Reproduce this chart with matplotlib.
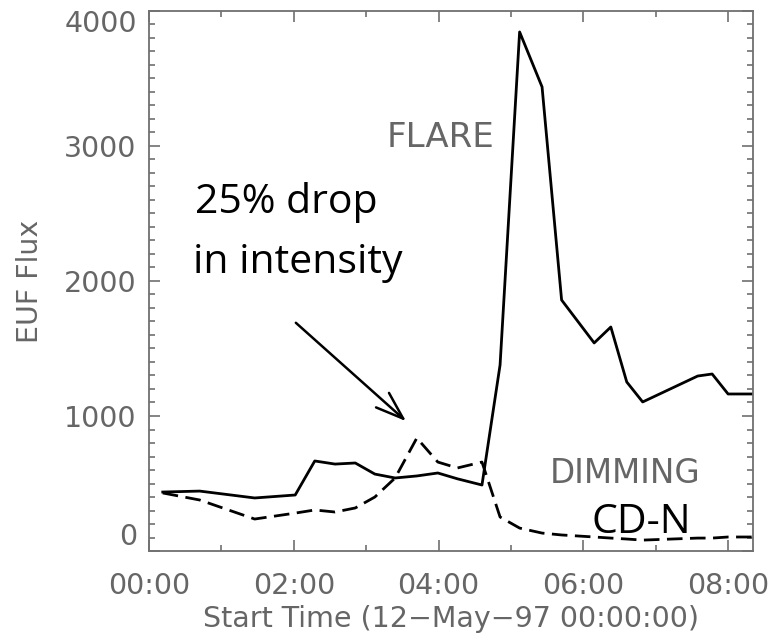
import matplotlib
matplotlib.use("Agg")
import matplotlib.pyplot as plt
import matplotlib.transforms as mtransforms
from matplotlib.ticker import MultipleLocator, FixedLocator, FuncFormatter

# Time in hours after 12-May-97 00:00:00
hours = [0.19, 0.70, 1.46, 2.02, 2.29, 2.57, 2.85, 3.12, 3.40, 3.70, 3.99,
         4.26, 4.60, 4.85, 5.12, 5.43, 5.70, 6.15, 6.38, 6.60, 6.82,
         7.58, 7.78, 8.00, 8.33]

# Flare region flux (solid)
flare_flux = [437, 444, 393, 415, 667, 644, 652, 570, 541, 556, 578,
              535, 489, 1378, 3844, 3437, 1859, 1541, 1659, 1252, 1104,
              1296, 1311, 1163, 1163]

# Dimming region CD-N flux (dashed)
dimming_flux = [430, 378, 237, 281, 304, 289, 319, 400, 541, 837, 659,
                615, 659, 252, 170, 133, 119, 104, 96, 89, 81,
                96, 96, 104, 104]

x_ticks = [0, 2, 4, 6, 8]
y_ticks = [0, 1000, 2000, 3000, 4000]

axis_gray = "#707070"
text_gray = "#666666"
label_font = "DejaVu Sans"
label_size = 20.5

fig = plt.figure(figsize=(7.72, 6.4), dpi=100)
ax = fig.add_axes([0.193, 0.139, 0.782, 0.844])

ax.plot(hours, flare_flux, color="black", lw=2.0)
ax.plot(hours, dimming_flux, color="black", lw=2.0, ls=(0, (5.6, 2.7)))

ax.set_xlim(0, 8.34)
ax.set_ylim(y_ticks[0], y_ticks[-1])

ax.xaxis.set_major_locator(FixedLocator(x_ticks))
ax.xaxis.set_minor_locator(MultipleLocator(1))
ax.yaxis.set_major_locator(FixedLocator(y_ticks))
ax.yaxis.set_minor_locator(MultipleLocator(100))
ax.xaxis.set_major_formatter(FuncFormatter(lambda v, p: f"{int(round(v)):02d}:00"))
# the end values of the flux axis are written separately, just inside the frame
ax.yaxis.set_major_formatter(FuncFormatter(
    lambda v, p: "" if v in (y_ticks[0], y_ticks[-1]) else f"{int(v)}"))

for s in ax.spines.values():
    s.set_color(axis_gray)
    s.set_linewidth(1.3)

ax.tick_params(which="both", direction="in", top=True, right=True,
               color=axis_gray, width=1.2, labelcolor=text_gray)
ax.tick_params(which="major", length=8, labelsize=label_size, pad=15)
ax.tick_params(which="minor", length=4.3)
ax.tick_params(axis="y", which="major", pad=9)

for lab in ax.get_xticklabels() + ax.get_yticklabels():
    lab.set_fontfamily(label_font)

ylab_trans = mtransforms.blended_transform_factory(ax.transAxes, ax.transData)
pad = mtransforms.ScaledTranslation(-0.12, 0, fig.dpi_scale_trans)
for val, shift in ((y_ticks[0], 0.14), (y_ticks[-1], -0.13)):
    off = mtransforms.ScaledTranslation(0, shift, fig.dpi_scale_trans)
    ax.text(0, val, f"{val}", transform=ylab_trans + pad + off,
            ha="right", va="center", fontsize=label_size, color=text_gray,
            family=label_font)

ax.set_xlabel("Start Time (12\u2212May\u221297 00:00:00)", fontsize=label_size,
              color=text_gray, family=label_font, labelpad=4)
ax.set_ylabel("EUF Flux", fontsize=label_size, color=text_gray,
              family=label_font, labelpad=14)

ax.text(0.394, 0.748, "FLARE", transform=ax.transAxes, fontsize=24.5,
        color=text_gray, family=label_font)
ax.text(0.664, 0.126, "DIMMING", transform=ax.transAxes, fontsize=23.5,
        color=text_gray, family=label_font)

note_font = "Open Sans"
ax.text(0.076, 0.626, "25% drop", transform=ax.transAxes, fontsize=29.5,
        color="black", family=note_font)
ax.text(0.073, 0.515, "in intensity", transform=ax.transAxes, fontsize=29.5,
        color="black", family=note_font)
ax.text(0.733, 0.033, "CD-N", transform=ax.transAxes, fontsize=29.5,
        color="black", family=note_font)

ax.annotate("", xy=(3.58, 948), xytext=(2.0, 1704),
            arrowprops=dict(arrowstyle="->,head_length=2.0,head_width=0.7",
                            color="black", lw=1.8))

fig.savefig("out.png", dpi=100)
